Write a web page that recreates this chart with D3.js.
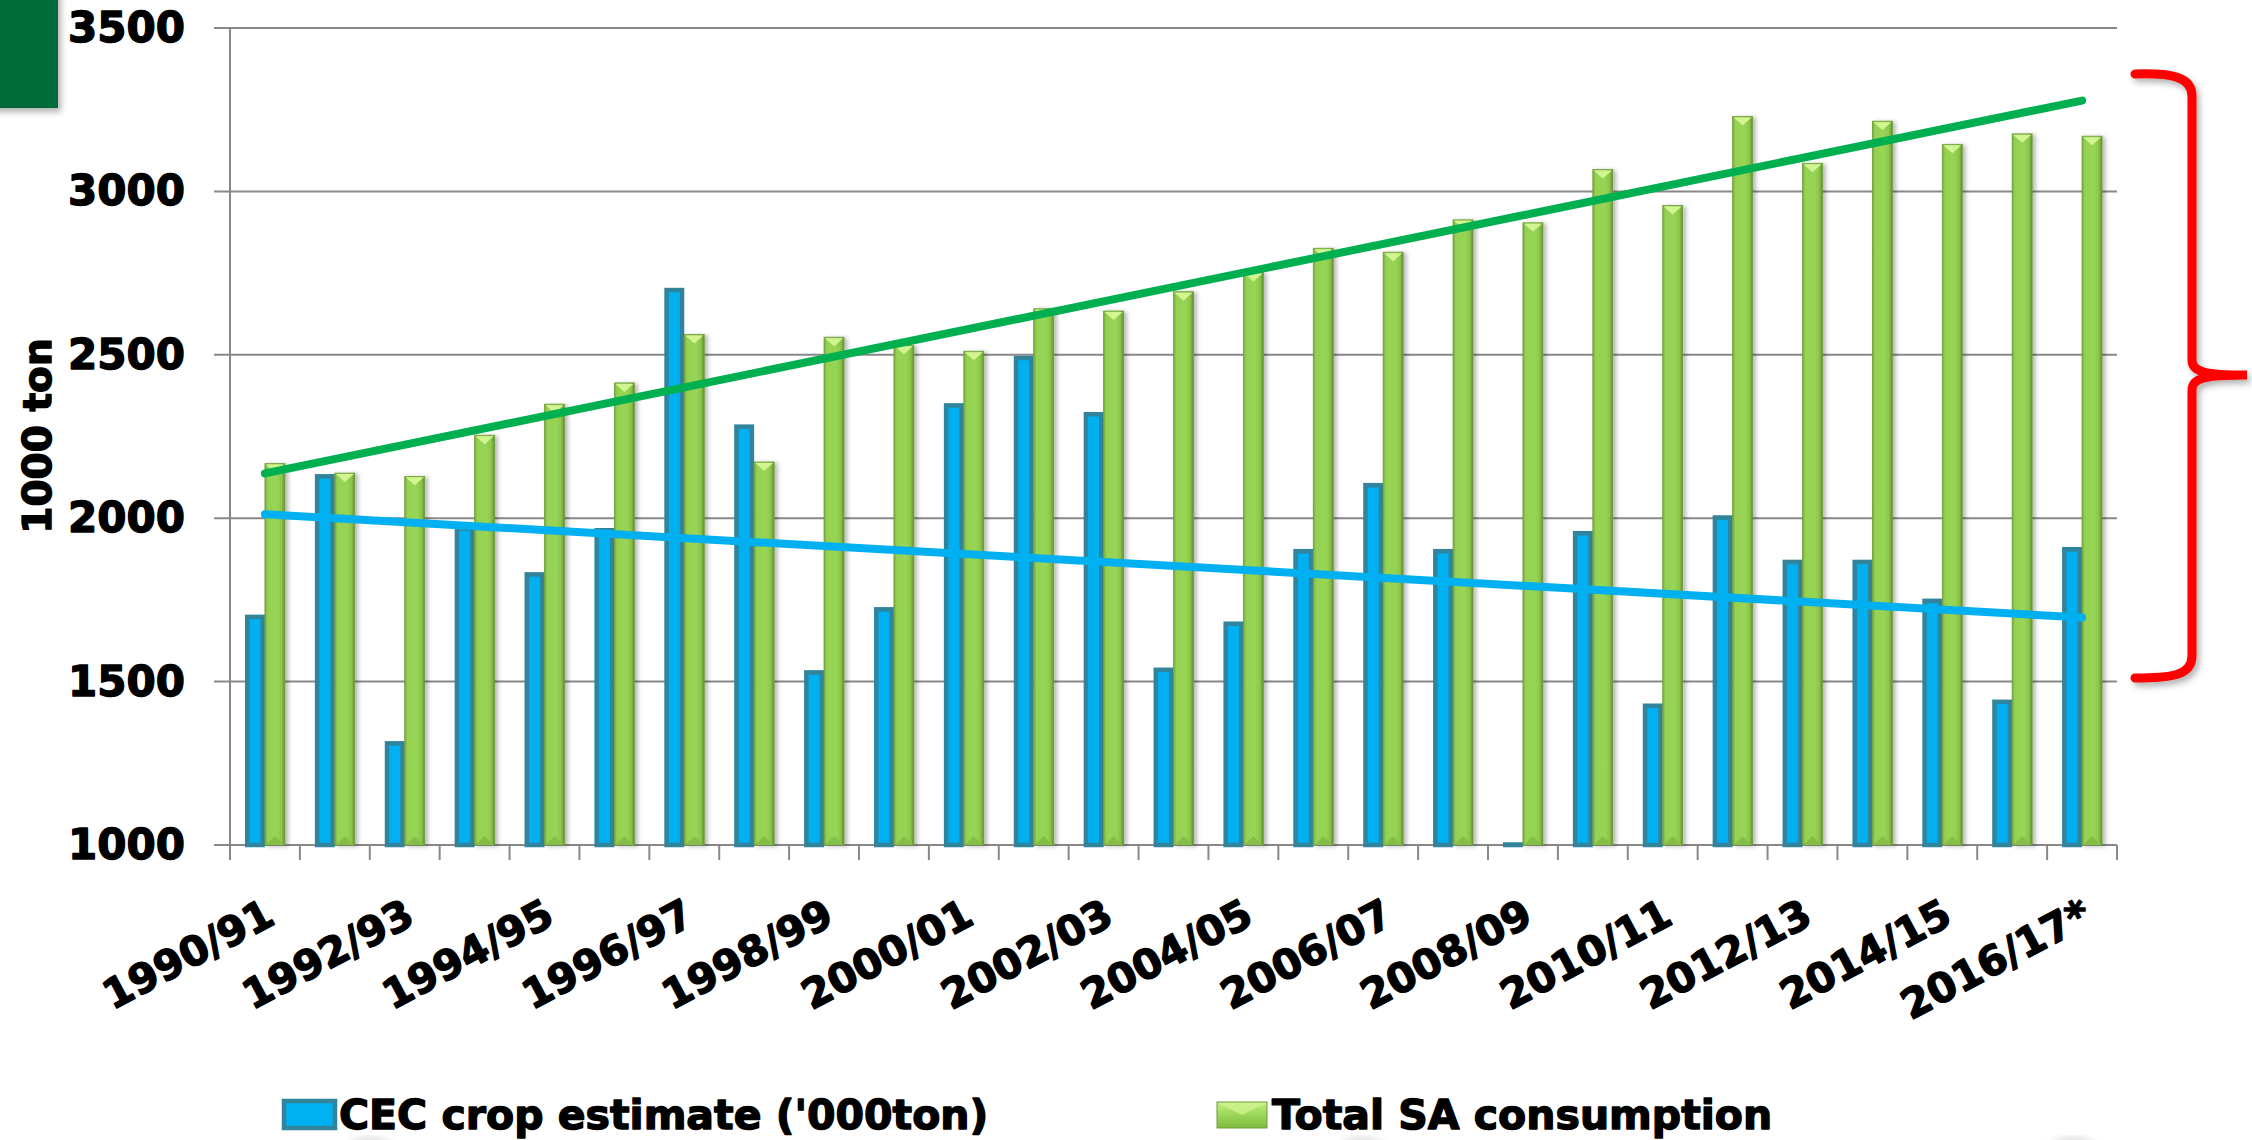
<!DOCTYPE html>
<html>
<head>
<meta charset="utf-8">
<script src="https://cdn.jsdelivr.net/npm/d3@7"></script>
<style>
  html, body { margin: 0; padding: 0; background: #ffffff; overflow: hidden; }
  svg { display: block; }
  text { font-family: "DejaVu Sans", "Liberation Sans", sans-serif; font-weight: bold; fill: #000;
         stroke: #000; stroke-width: 1.4px; stroke-linejoin: round; }
</style>
</head>
<body>
<svg id="chart" width="2252" height="1140"></svg>
<script>
// Marketing seasons
const seasons = ["1990/91","1991/92","1992/93","1993/94","1994/95","1995/96","1996/97","1997/98",
  "1998/99","1999/00","2000/01","2001/02","2002/03","2003/04","2004/05","2005/06","2006/07",
  "2007/08","2008/09","2009/10","2010/11","2011/12","2012/13","2013/14","2014/15","2015/16","2016/17*"];

// CEC crop estimate ('000 ton)
const cropEstimate = [1705,2135,1318,1975,1835,1970,2705,2287,1535,1728,2352,2497,2325,1543,
  1684,1906,2108,1906,1000,1961,1433,2009,1873,1873,1754,1445,1912];

// Total SA consumption ('000 ton)
const consumption = [2167,2138,2128,2254,2349,2414,2562,2172,2554,2529,2511,2641,2634,2693,
  2752,2826,2814,2913,2904,3067,2957,3229,3086,3215,3144,3176,3169];

// Linear trend lines: value at first and last season
const cropTrend = [2012, 1696];
const consumptionTrend = [2137, 3278];

// Axis labels
const yTicks = [1000, 1500, 2000, 2500, 3000, 3500];
const xTickLabels = ["1990/91","1992/93","1994/95","1996/97","1998/99","2000/01","2002/03",
  "2004/05","2006/07","2008/09","2010/11","2012/13","2014/15","2016/17*"];
const legendLabels = ["CEC crop estimate ('000ton)", "Total SA consumption"];

const svg = d3.select("#chart");
const plot = { left: 230, right: 2117, top: 28, bottom: 845 };

const x = d3.scaleBand().domain(seasons).range([plot.left, plot.right]).paddingInner(0).paddingOuter(0);
const y = d3.scaleLinear().domain([1000, 3500]).range([plot.bottom, plot.top]).clamp(true);
const barW = x.bandwidth() / 3.5;

// ---------- definitions ----------
const defs = svg.append("defs");
const gGrad = defs.append("linearGradient").attr("id", "greenBar").attr("x1", "0").attr("x2", "1").attr("y1", "0").attr("y2", "0");
[["0%", "#74a93a"], ["14%", "#95d252"], ["60%", "#98d556"], ["84%", "#8ac54a"], ["100%", "#5f8d2e"]]
  .forEach(([o, c]) => gGrad.append("stop").attr("offset", o).attr("stop-color", c));
const swGrad = defs.append("linearGradient").attr("id", "greenSwatch").attr("x1", "0").attr("x2", "0").attr("y1", "0").attr("y2", "1");
[["0%", "#c6ef7e"], ["50%", "#9ad657"], ["100%", "#7dba3f"]]
  .forEach(([o, c]) => swGrad.append("stop").attr("offset", o).attr("stop-color", c));

const shadow = defs.append("filter").attr("id", "barShadow").attr("x", "-50%").attr("y", "-5%").attr("width", "200%").attr("height", "110%");
shadow.append("feDropShadow").attr("dx", 3).attr("dy", 1).attr("stdDeviation", 2)
  .attr("flood-color", "#000").attr("flood-opacity", 0.28);
const soft = defs.append("filter").attr("id", "softShadow").attr("x", "-20%").attr("y", "-20%").attr("width", "150%").attr("height", "150%");
soft.append("feDropShadow").attr("dx", 3).attr("dy", 4).attr("stdDeviation", 3)
  .attr("flood-color", "#000").attr("flood-opacity", 0.3);
const haze = defs.append("filter").attr("id", "haze");
haze.append("feGaussianBlur").attr("stdDeviation", 4);

// ---------- corner block ----------
svg.append("rect").attr("x", -10).attr("y", -10).attr("width", 68).attr("height", 118)
  .attr("fill", "#056a37").attr("filter", "url(#softShadow)");

// ---------- gridlines & y axis ----------
const grid = svg.append("g");
grid.selectAll("line").data(yTicks).join("line")
  .attr("x1", plot.left - 16).attr("x2", plot.right)
  .attr("y1", d => y(d)).attr("y2", d => y(d))
  .attr("stroke", "#888").attr("stroke-width", 2);

const yAxis = svg.append("g").attr("transform", `translate(${plot.left},0)`)
  .call(d3.axisLeft(y).tickValues(yTicks).tickSize(0).tickPadding(45).tickFormat(d3.format("d")));
yAxis.select(".domain").remove();
yAxis.selectAll("text").attr("font-size", 42).attr("font-family", "DejaVu Sans").attr("font-weight", "bold").attr("fill", "#000");

svg.append("line").attr("x1", plot.left).attr("x2", plot.left)
  .attr("y1", plot.top).attr("y2", plot.bottom + 15).attr("stroke", "#888").attr("stroke-width", 2);

// x tick marks at category boundaries
const boundaries = seasons.map(s => x(s)).concat([plot.right]);
svg.append("g").selectAll("line").data(boundaries).join("line")
  .attr("x1", d => d).attr("x2", d => d)
  .attr("y1", plot.bottom).attr("y2", plot.bottom + 15)
  .attr("stroke", "#888").attr("stroke-width", 2);

// ---------- bars ----------
const bars = svg.append("g");
const sw = 4.5;
// a bar at the axis minimum keeps a sliver of height so its outline still shows
bars.selectAll("rect.crop").data(seasons).join("rect").attr("class", "crop")
  .attr("x", d => x(d) + x.bandwidth() / 2 - barW + sw / 2)
  .attr("width", barW - sw)
  .attr("y", (d, i) => Math.min(y(cropEstimate[i]) + sw / 2, plot.bottom - 0.5))
  .attr("height", (d, i) => Math.max(0.5, plot.bottom - y(cropEstimate[i]) - sw / 2))
  .attr("fill", "#00b0f0").attr("stroke", "#31849b").attr("stroke-width", sw);

const gbar = bars.selectAll("g.use").data(seasons).join("g").attr("class", "use")
  .attr("filter", "url(#barShadow)");
gbar.append("rect")
  .attr("x", d => x(d) + x.bandwidth() / 2)
  .attr("width", barW)
  .attr("y", (d, i) => y(consumption[i]))
  .attr("height", (d, i) => plot.bottom - y(consumption[i]))
  .attr("fill", "url(#greenBar)").attr("stroke", "#6f9c3c").attr("stroke-width", 0.8);
// bevelled top
gbar.append("path").attr("d", (d, i) => {
  const x0 = x(d) + x.bandwidth() / 2, top = y(consumption[i]);
  return `M${x0 + 1},${top + 1}L${x0 + barW - 1},${top + 1}L${x0 + barW / 2},${top + barW * 0.45}Z`;
}).attr("fill", "#d2f592");
gbar.append("path").attr("d", (d, i) => {
  const x0 = x(d) + x.bandwidth() / 2;
  return `M${x0 + 1},${plot.bottom}L${x0 + barW - 1},${plot.bottom}L${x0 + barW / 2},${plot.bottom - barW * 0.45}Z`;
}).attr("fill", "#84bd47");

// ---------- trend lines ----------
const ends = [seasons[0], seasons[seasons.length - 1]];
const trendLine = d3.line().x(d => x(d[0]) + x.bandwidth() / 2).y(d => y(d[1]));
svg.append("path").attr("d", trendLine(ends.map((s, i) => [s, consumptionTrend[i]])))
  .attr("stroke", "#00b050").attr("stroke-width", 8).attr("stroke-linecap", "round").attr("fill", "none");
svg.append("path").attr("d", trendLine(ends.map((s, i) => [s, cropTrend[i]])))
  .attr("stroke", "#00b0f0").attr("stroke-width", 8).attr("stroke-linecap", "round").attr("fill", "none");

// ---------- x labels ----------
const angle = 28;
svg.append("g").selectAll("text").data(xTickLabels).join("text")
  .attr("transform", d => `translate(${x(d) + x.bandwidth() / 2 + 12},923) rotate(${-angle})`)
  .attr("text-anchor", "end").attr("font-size", 41).text(d => d);

// ---------- y title ----------
svg.append("text").attr("transform", "translate(51,436) rotate(-90)")
  .attr("text-anchor", "middle").attr("font-size", 39).text("1000 ton");

// ---------- brace ----------
svg.append("path")
  .attr("d", "M2135,74 C2170,73 2192,76 2192,96 L2192,360 C2192,372 2205,375 2247,375 C2205,375 2192,378 2192,390 L2192,656 C2192,676 2170,678 2135,678")
  .attr("fill", "none").attr("stroke", "#ff0000").attr("stroke-width", 9).attr("stroke-linecap", "round")
  .attr("filter", "url(#softShadow)");

// ---------- legend ----------
const leg = svg.append("g");
leg.append("rect").attr("x", 284).attr("y", 1101).attr("width", 51).attr("height", 27)
  .attr("fill", "#00b0f0").attr("stroke", "#31849b").attr("stroke-width", 4.5);
leg.append("text").attr("x", 339).attr("y", 1129).attr("font-size", 41).text(legendLabels[0]);
leg.append("rect").attr("x", 1217).attr("y", 1102).attr("width", 50).attr("height", 26)
  .attr("fill", "url(#greenSwatch)").attr("stroke", "#6f9c3c").attr("stroke-width", 1);
leg.append("path").attr("d", "M1218,1103L1266,1103L1242,1115Z").attr("fill", "#d2f592").attr("opacity", 0.7);
leg.append("text").attr("x", 1272).attr("y", 1129).attr("font-size", 41).text(legendLabels[1]);

// faint marks along the bottom edge
svg.append("g").attr("filter", "url(#haze)").selectAll("ellipse")
  .data([370, 1362, 2073]).join("ellipse")
  .attr("cx", d => d).attr("cy", 1152).attr("rx", 24).attr("ry", 14)
  .attr("fill", "#d8d8d8");
</script>
</body>
</html>
